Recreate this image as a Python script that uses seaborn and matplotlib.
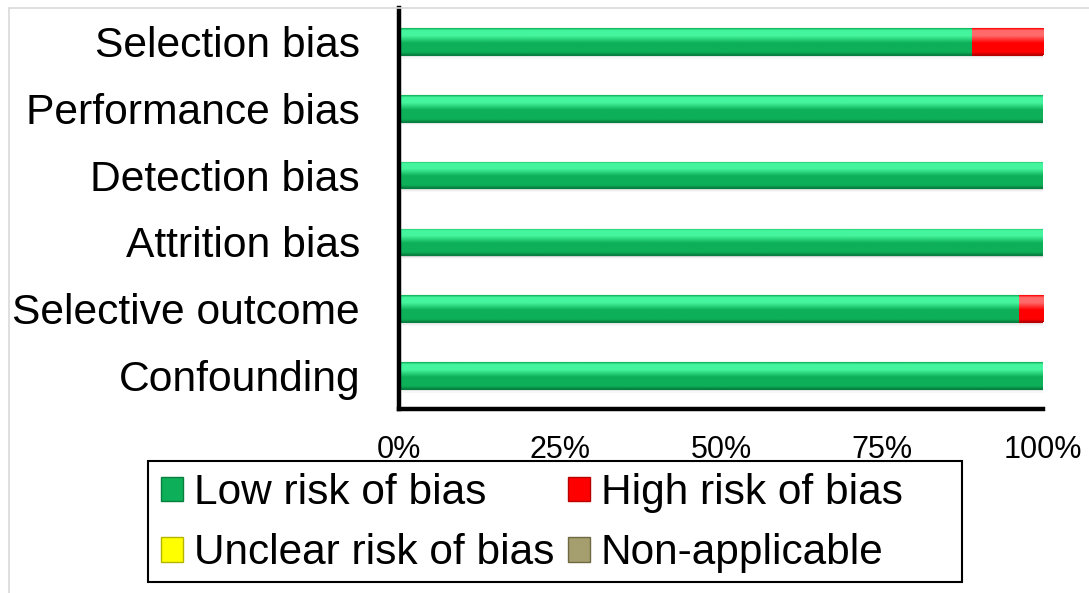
import matplotlib
matplotlib.use("Agg")
import matplotlib.pyplot as plt
from matplotlib.patches import Patch, Rectangle
from matplotlib.colors import to_rgb
import numpy as np
import pandas as pd
import seaborn as sns

# Risk-of-bias domains and share of studies per judgement (%)
domains = ["Selection bias", "Performance bias", "Detection bias",
           "Attrition bias", "Selective outcome", "Confounding"]
low_risk = [88.9, 100, 100, 100, 96.2, 100]
high_risk = [11.1, 0, 0, 0, 3.8, 0]
unclear_risk = [0, 0, 0, 0, 0, 0]
not_applicable = [0, 0, 0, 0, 0, 0]
x_ticks = [0, 25, 50, 75, 100]
x_tick_labels = ["0%", "25%", "50%", "75%", "100%"]

# (light top, body, dark bottom) shades per judgement
SHADES = {
    "low": ("#45F59E", "#0DB058", "#07803F"),
    "high": ("#FF6A6A", "#FF0000", "#B80000"),
    "unclear": ("#FFFF99", "#FFFF00", "#B5B500"),
    "na": ("#CFC79A", "#A59E6E", "#6E6843"),
}
LEGEND_LABELS = {
    "low": "Low risk of bias",
    "high": "High risk of bias",
    "unclear": "Unclear risk of bias",
    "na": "Non-applicable",
}

sns.set_theme(style="white")
plt.rcParams["font.family"] = ["Liberation Sans", "DejaVu Sans"]
for key in ["text.color", "axes.labelcolor", "xtick.color", "ytick.color"]:
    plt.rcParams[key] = "black"

df = pd.DataFrame({
    "domain": domains,
    "low": low_risk,
    "high": high_risk,
    "unclear": unclear_risk,
    "na": not_applicable,
})
order = ["low", "high", "unclear", "na"]
starts = df[order].cumsum(axis=1) - df[order]

W, H = 1089, 593
fig = plt.figure(figsize=(W / 100, H / 100), dpi=100)
ax = fig.add_axes([399 / W, 1 - 409 / H, 644 / W, 401 / H])


def gradient(light, body, dark, n=64):
    # vertical profile: bright rim, lighter upper band, body, darker base
    t = np.linspace(0, 1, n)
    stops = [0.0, 0.08, 0.28, 0.55, 0.9, 1.0]
    cols = np.array([to_rgb(body), to_rgb(light), to_rgb(light), to_rgb(body),
                     to_rgb(body), to_rgb(dark)])
    rgb = np.stack([np.interp(t, stops, cols[:, c]) for c in range(3)], axis=1)
    return rgb[:, None, :]


segments = []
for key in order:
    n_before = len(ax.patches)
    light, body, dark = SHADES[key]
    sns.barplot(data=df, y="domain", x=key, orient="h", color=body,
                width=0.4, edgecolor=dark, linewidth=0.8, saturation=1,
                ax=ax, zorder=3)
    new = ax.patches[n_before:]
    for patch, start in zip(new, starts[key]):
        patch.set_x(start)
        if patch.get_width() <= 0:
            patch.set_visible(False)
        else:
            segments.append((patch, key))

for patch, key in segments:
    x0, y0 = patch.get_x(), patch.get_y()
    w, h = patch.get_width(), patch.get_height()
    light, body, dark = SHADES[key]
    img = ax.imshow(gradient(light, body, dark), extent=(x0, x0 + w, y0 + h, y0),
                    origin="upper", aspect="auto", zorder=3.5,
                    interpolation="bilinear")
    img.set_clip_path(patch)
    # soft drop shadow under the bar
    for k, a in enumerate([0.22, 0.12, 0.06]):
        ax.add_patch(Rectangle((x0 + 0.4, y0 + h + k * 0.018), w, 0.02,
                               facecolor="#808080", alpha=a, linewidth=0,
                               zorder=2))

ax.set_xlim(0, 100)
ax.set_ylim(5.5, -0.5)
ax.set_xticks(x_ticks)
ax.set_xticklabels(x_tick_labels, fontsize=22)
ax.tick_params(axis="x", length=0, pad=18.5)
ax.tick_params(axis="y", length=0, pad=28, labelsize=30.7)
ax.set_xlabel("")
ax.set_ylabel("")
for s in ["top", "right"]:
    ax.spines[s].set_visible(False)
for s in ["left", "bottom"]:
    ax.spines[s].set_color("black")
    ax.spines[s].set_linewidth(3.2)
    ax.spines[s].set_zorder(5)
ax.grid(False)

legend_order = ["low", "unclear", "high", "na"]
handles = [Patch(facecolor=SHADES[k][1], edgecolor=SHADES[k][2],
                 label=LEGEND_LABELS[k]) for k in legend_order]
leg = fig.legend(handles=handles, ncol=2, loc="upper left",
                 bbox_to_anchor=(161 / W, 1 - 473 / H),
                 fontsize=30.5, frameon=False,
                 handlelength=0.53, handleheight=0.53, handletextpad=0.24,
                 columnspacing=0.33, labelspacing=0.48, borderpad=0,
                 borderaxespad=0)

# legend frame spans wider than its entries
fig.add_artist(Rectangle((148 / W, 1 - 582 / H), (962 - 148) / W, (582 - 461) / H,
                         transform=fig.transFigure, fill=False,
                         edgecolor="black", linewidth=1.5))

# light frame around the chart area
fig.add_artist(Rectangle((9 / W, -0.05), 1.2, 1 - 8 / H + 0.05,
                         transform=fig.transFigure, fill=False,
                         edgecolor="#D9D9D9", linewidth=1.2))

fig.savefig("out.png", dpi=100)
